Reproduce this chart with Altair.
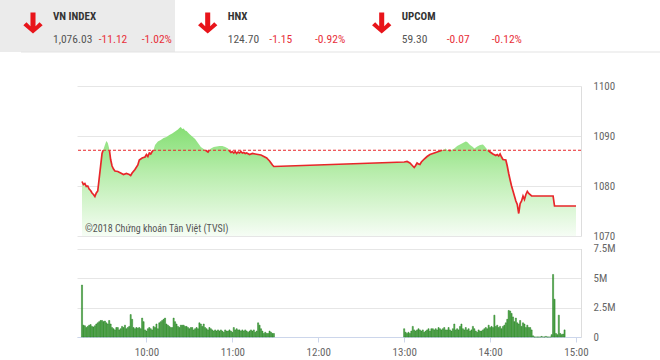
import altair as alt
import pandas as pd

# ---------------- data ----------------
REF = 1087.15  # previous close (reference line)

price_time = ["09:15", "09:16", "09:17", "09:18", "09:19", "09:20", "09:21", "09:22", "09:23", "09:24",
              "09:25", "09:26", "09:27", "09:28", "09:29", "09:31", "09:32", "09:33", "09:34", "09:35",
              "09:36", "09:37", "09:38", "09:40", "09:42", "09:44", "09:46", "09:48", "09:49", "09:50",
              "09:52", "09:54", "09:55", "09:57", "09:59", "10:00", "10:01", "10:02", "10:03", "10:04",
              "10:05", "10:06", "10:08", "10:10", "10:12", "10:14", "10:16", "10:18", "10:20", "10:22",
              "10:23", "10:24", "10:25", "10:26", "10:27", "10:28", "10:30", "10:32", "10:34", "10:36",
              "10:38", "10:40", "10:41", "10:42", "10:43", "10:44", "10:45", "10:47", "10:49", "10:51",
              "10:53", "10:55", "10:57", "10:58", "10:59", "11:00", "11:01", "11:02", "11:03", "11:04",
              "11:05", "11:06", "11:07", "11:08", "11:09", "11:10", "11:12", "11:14", "11:16", "11:18",
              "11:20", "11:22", "11:24", "11:25", "11:26", "11:27", "11:28", "11:29",
              "13:00", "13:02", "13:04", "13:06", "13:07", "13:08", "13:09", "13:10", "13:11", "13:12",
              "13:14", "13:16", "13:18", "13:20", "13:22", "13:24", "13:26", "13:28", "13:29", "13:30",
              "13:32", "13:33", "13:35", "13:37", "13:39", "13:41", "13:43", "13:44", "13:46", "13:48",
              "13:49", "13:51", "13:53", "13:55", "13:56", "13:58", "14:00", "14:02", "14:04", "14:05",
              "14:06", "14:07", "14:08", "14:09", "14:11", "14:12", "14:13", "14:14", "14:15", "14:16",
              "14:17", "14:18", "14:19", "14:20", "14:21", "14:22", "14:23", "14:24", "14:25", "14:26",
              "14:27", "14:29", "14:44", "14:45", "15:00"]
price_value = [1080.9, 1080.3, 1080.5, 1079.9, 1080.0, 1079.4, 1079.1, 1078.6, 1078.3, 1077.9,
               1078.6, 1079.0, 1081.5, 1084.0, 1086.5, 1088.2, 1089.0, 1088.6, 1087.5, 1085.3,
               1084.0, 1083.4, 1083.0, 1082.9, 1082.6, 1082.3, 1082.5, 1082.3, 1082.1, 1082.6,
               1083.3, 1084.2, 1085.2, 1085.6, 1085.8, 1086.3, 1085.9, 1086.6, 1086.4, 1086.9,
               1087.2, 1088.2, 1088.9, 1089.2, 1089.6, 1089.8, 1090.2, 1090.5, 1090.9, 1091.3,
               1091.6, 1091.8, 1091.4, 1091.5, 1091.1, 1091.0, 1090.4, 1089.9, 1089.4, 1088.6,
               1087.8, 1087.4, 1087.2, 1087.0, 1086.8, 1087.2, 1087.5, 1087.8, 1087.9, 1088.0,
               1088.0, 1087.8, 1087.5, 1087.0, 1086.7, 1086.9, 1086.6, 1086.9, 1086.5, 1086.8,
               1086.6, 1086.9, 1086.6, 1086.7, 1086.5, 1086.6, 1086.3, 1086.5, 1086.4, 1086.3,
               1086.2, 1085.9, 1085.6, 1085.3, 1085.0, 1084.6, 1084.2, 1083.9,
               1084.8, 1084.9, 1084.6, 1084.0, 1083.7, 1084.1, 1084.6, 1084.4, 1084.3, 1084.8,
               1085.4, 1085.9, 1086.3, 1086.5, 1086.7, 1086.9, 1087.1, 1087.3, 1087.5, 1087.2,
               1087.1, 1087.2, 1087.5, 1088.0, 1088.3, 1088.6, 1088.9, 1088.8, 1088.2, 1087.8,
               1087.5, 1087.9, 1088.2, 1088.3, 1088.0, 1087.3, 1086.8, 1086.4, 1086.1, 1086.3,
               1086.0, 1086.4, 1085.8, 1085.3, 1085.2, 1084.0, 1082.5, 1081.2, 1080.0, 1079.0,
               1078.0, 1077.0, 1076.3, 1074.5, 1076.5, 1077.0, 1078.0, 1077.3, 1078.3, 1078.9,
               1078.5, 1078.0, 1078.0, 1076.0, 1076.0]

# volume (millions), one bar per minute
vol_am_start = "09:15"
vol_am = [4.4, 1.0, 0.95, 0.8, 0.9, 1.0, 1.05, 0.9, 0.85, 0.95,
          1.1, 1.2, 1.3, 1.4, 1.4, 1.3, 1.35, 1.2, 1.1, 1.4,
          1.1, 0.8, 0.7, 0.6, 0.8, 0.8, 0.6, 0.7, 0.9, 0.8,
          1.0, 0.7, 0.8, 0.9, 1.9, 1.5, 0.8, 0.7, 0.8, 0.75,
          0.8, 0.7, 1.6, 1.3, 0.6, 0.5, 0.7, 0.8, 0.7, 0.6,
          0.9, 0.8, 1.1, 0.7, 1.2, 1.3, 1.4, 1.5, 1.6, 1.1,
          1.0, 0.9, 0.8, 0.8, 1.6, 1.3, 1.1, 0.9, 0.8, 1.0,
          1.0, 1.0, 0.9, 0.9, 0.8, 0.7, 0.8, 0.8, 0.6, 0.7,
          0.8, 0.7, 1.2, 1.1, 0.9, 1.1, 0.8, 0.7, 0.6, 0.8,
          0.7, 0.6, 0.5, 0.6, 0.5, 0.6, 0.5, 0.6, 0.5, 0.4,
          0.6, 0.5, 0.5, 0.6, 0.5, 0.4, 0.8, 0.6, 0.7, 0.6,
          0.6, 0.5, 0.6, 0.5, 0.6, 0.5, 0.4, 0.5, 0.6, 0.5,
          0.6, 0.4, 0.5, 1.2, 1.0, 0.7, 0.5, 0.3, 0.4, 0.3,
          0.3, 0.5, 0.4, 0.3, 0.3]
vol_pm_start = "13:00"
vol_pm = [0.7, 0.4, 0.3, 0.4, 0.3, 0.5, 0.9, 0.6, 0.5, 0.6,
          0.7, 0.6, 0.5, 0.6, 0.4, 0.5, 0.6, 0.7, 0.5, 0.7,
          0.7, 0.6, 0.7, 0.6, 0.8, 0.7, 0.6, 0.7, 0.8, 0.6,
          0.6, 0.8, 0.6, 0.5, 0.7, 1.1, 0.6, 0.7, 0.6, 0.9,
          1.1, 0.7, 0.6, 0.8, 0.6, 0.7, 0.5, 0.6, 0.9, 0.7,
          0.5, 0.4, 0.6, 0.5, 0.5, 0.6, 0.7, 0.8, 0.7, 1.0,
          0.8, 0.9, 0.8, 1.85, 0.9, 1.0, 0.8, 0.9, 0.7, 0.9,
          1.0, 1.2, 1.5, 2.25, 2.2, 2.0, 1.7, 1.3, 1.6, 1.2,
          1.1, 1.4, 0.9, 1.2, 1.1, 0.8, 1.0, 0.8, 0.8, 0.6,
          0.1, 0.0, 0.0, 0.0, 0.0, 0.0, 0.05, 0.0, 0.0, 0.05,
          0.0, 0.0, 0.0, 0.2, 5.3, 3.2, 0.3, 0.2, 1.85, 0.3,
          0.2, 0.25, 0.6]

index_names = ["VN INDEX", "HNX", "UPCOM"]
index_values = ["1,076.03", "124.70", "59.30"]
index_changes = ["-11.12", "-1.15", "-0.07"]
index_pcts = ["-1.02%", "-0.92%", "-0.12%"]

price_ticks = [1070, 1080, 1090, 1100]
vol_ticks = [0, 2.5, 5, 7.5]
time_ticks = ["10:00", "11:00", "12:00", "13:00", "14:00", "15:00"]
copyright_text = "©2018 Chứng khoán Tân Việt (TVSI)"


def to_min(s):
    h, m = s.split(":")
    return int(h) * 60 + int(m)


# ---------------- tables ----------------
pt = [to_min(s) for s in price_time]
price_df = pd.DataFrame({"t": pt, "v": price_value})

# red line only where price is at/below reference; split at crossings
rows = []
seg = 0
prev = None
for t, v in zip(pt, price_value):
    if prev is not None:
        t0, v0 = prev
        if (v0 <= REF) != (v <= REF):
            tc = t0 + (REF - v0) * (t - t0) / (v - v0)
            rows.append((tc, REF, seg))
            if v > REF:
                seg += 1
    if v <= REF:
        rows.append((t, v, seg))
    prev = (t, v)
red_df = pd.DataFrame(rows, columns=["t", "v", "seg"])

am0 = to_min(vol_am_start)
pm0 = to_min(vol_pm_start)
vol_df = pd.DataFrame({
    "t": [am0 + i for i in range(len(vol_am))] + [pm0 + i for i in range(len(vol_pm))],
    "vol": vol_am + vol_pm,
})

# ---------------- style ----------------
W, H = 504, 251
FONT = "'Liberation Sans Narrow', 'Roboto Condensed', 'DejaVu Sans Condensed', Roboto"
GRID = "#e6e6e6"
AXISC = "#ccd6eb"
RED = "#e8262a"
TXT = "#666666"

xscale = alt.Scale(domain=[to_min("09:15"), to_min("15:00")], nice=False, zero=False)
X = alt.X("t:Q", scale=xscale, title=None,
          axis=alt.Axis(values=[to_min(s) for s in time_ticks],
                        labelExpr="format(floor(datum.value/60),'02d') + ':00'",
                        grid=False, domainColor=AXISC, tickColor=AXISC, tickSize=5,
                        labelPadding=4, labelFontSize=11, labelColor=TXT, labelFont=FONT,
                        labelFlush=False))

pscale = alt.Scale(domain=[1070, 1100], range=[150, 0], nice=False, zero=False)
PY = alt.Y("v:Q", scale=pscale, title=None,
           axis=alt.Axis(orient="right", values=price_ticks, grid=True, gridColor=GRID,
                         ticks=False, domain=True, domainColor="#dddddd", format="d",
                         labelPadding=12, labelFontSize=11, labelColor=TXT, labelFont=FONT))

grad = alt.Gradient(gradient="linear",
                    stops=[alt.GradientStop(color="#86de74", offset=0),
                           alt.GradientStop(color="#9de68f", offset=0.21),
                           alt.GradientStop(color="#b8edac", offset=0.42),
                           alt.GradientStop(color="#d6f5cf", offset=0.7),
                           alt.GradientStop(color="#f6fdf5", offset=1)],
                    x1=1, x2=1, y1=0, y2=1)

area = alt.Chart(price_df).mark_area(fill=grad, line=False).encode(
    x=X, y=PY, y2=alt.datum(1070))
red_line = alt.Chart(red_df).mark_line(color=RED, strokeWidth=1.7).encode(
    x=X, y=PY, detail="seg:N")
ref_rule = alt.Chart(pd.DataFrame({"v": [REF]})).mark_rule(
    color=RED, strokeDash=[3, 2], strokeWidth=1).encode(y=PY)

price_layer = alt.layer(area, red_line, ref_rule)

vscale = alt.Scale(domain=[0, 7.5], range=[H, 162.5], nice=False)
vol_bars = alt.Chart(vol_df).mark_bar(width=1.1, fill="#55b14a", stroke="#217a21",
                                      strokeWidth=0.5).encode(
    x=X,
    y=alt.Y("vol:Q", scale=vscale, title=None,
            axis=alt.Axis(orient="right", values=vol_ticks, grid=True, gridColor=GRID,
                          ticks=False, domain=True, domainColor="#dddddd",
                          labelExpr="datum.value == 0 ? '0' : datum.value + 'M'",
                          labelPadding=12, labelFontSize=11, labelColor=TXT, labelFont=FONT)),
)

# ---------------- header ----------------
def txt(s, x, y, color="#555555", size=12, weight="normal", font=FONT):
    return alt.Chart(pd.DataFrame({"s": [s]})).mark_text(
        align="left", baseline="alphabetic", color=color, fontSize=size,
        fontWeight=weight, font=font).encode(
        text="s:N", x=alt.value(x), y=alt.value(y))


ARROW = ("M -0.24 -1 L 0.24 -1 L 0.24 0.3 L 0.62 -0.08 L 0.92 0.22 L 0 1.0 "
         "L -0.92 0.22 L -0.62 -0.08 L -0.24 0.3 Z")

header = [
    alt.Chart(pd.DataFrame({"a": [0]})).mark_rect(color="#ebebeb").encode(
        x=alt.value(-77), x2=alt.value(98), y=alt.value(-86), y2=alt.value(-34)),
    alt.Chart(pd.DataFrame({"a": [0]})).mark_rule(color="#e3e3e3", strokeWidth=1).encode(
        x=alt.value(-56), x2=alt.value(583), y=alt.value(-34)),
]
block_x = [-24, 150.7, 324.7]
chg_dx = [45.7, 41.6, 45.0]
pct_dx = [88.7, 87.3, 90.0]
for i in range(3):
    bx = block_x[i]
    header.append(alt.Chart(pd.DataFrame({"a": [0]})).mark_point(
        shape=ARROW, filled=True, size=440, color="#e8141a", opacity=1, strokeWidth=0).encode(
        x=alt.value(bx - 20), y=alt.value(-63)))
    header.append(txt(index_names[i], bx, -66, color="#333333", size=11, weight="bold"))
    header.append(txt(index_values[i], bx, -43, color="#555555", size=11.5))
    header.append(txt(index_changes[i], bx + chg_dx[i], -43, color="#e8303a", size=11.5))
    header.append(txt(index_pcts[i], bx + pct_dx[i], -43, color="#e8303a", size=11.5))

copyright = txt(copyright_text, 8, 146, color="#555555", size=10)

chart = alt.layer(*header, price_layer, vol_bars, copyright).resolve_scale(
    y="independent").properties(
    width=W, height=H,
    autosize=alt.AutoSizeParams(type="none"),
    padding={"left": 77, "top": 86, "right": 79, "bottom": 23},
    background="white",
).configure_view(stroke=None)

chart.save("out.html", embed_options={"renderer": "svg", "actions": False})
